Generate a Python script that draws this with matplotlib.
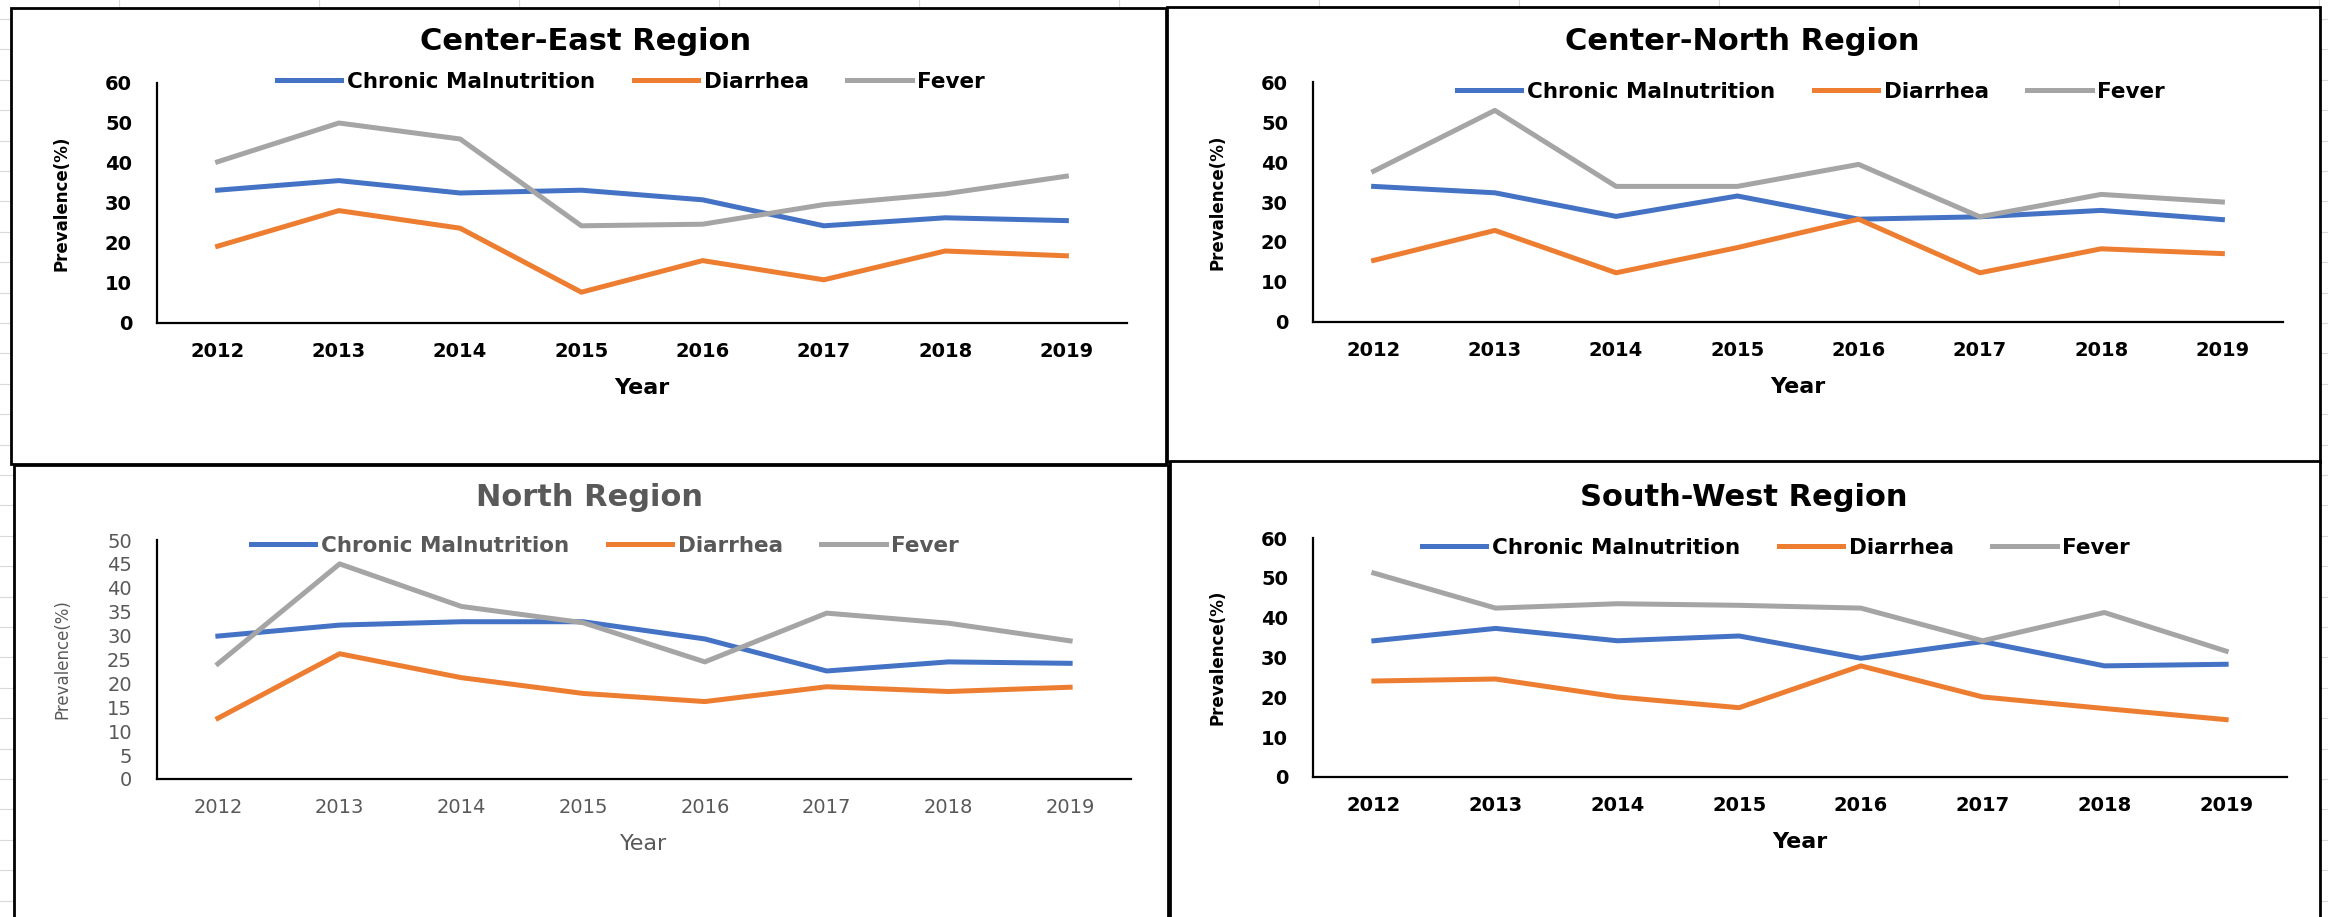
import matplotlib
matplotlib.use("Agg")
import matplotlib.pyplot as plt
from matplotlib.patches import Rectangle
from matplotlib.lines import Line2D

W, H = 2328, 917

years = ["2012", "2013", "2014", "2015", "2016", "2017", "2018", "2019"]
series_names = ["Chronic Malnutrition", "Diarrhea", "Fever"]
series_colors = ["#4472C4", "#ED7D31", "#A5A5A5"]

# Center-East Region
ce_chronic = [33.2, 35.6, 32.5, 33.2, 30.8, 24.3, 26.3, 25.6]
ce_diarrhea = [19.2, 28.1, 23.7, 7.7, 15.6, 10.8, 18.0, 16.8]
ce_fever = [40.3, 50.0, 46.0, 24.3, 24.7, 29.6, 32.3, 36.7]

# Center-North Region
cn_chronic = [33.9, 32.3, 26.4, 31.5, 25.7, 26.3, 27.9, 25.6]
cn_diarrhea = [15.4, 22.9, 12.3, 18.6, 25.7, 12.3, 18.3, 17.1]
cn_fever = [37.7, 52.9, 33.9, 33.9, 39.4, 26.3, 31.9, 30.0]

# North Region
n_chronic = [29.9, 32.2, 32.9, 32.9, 29.3, 22.6, 24.5, 24.2]
n_diarrhea = [12.7, 26.2, 21.2, 17.9, 16.2, 19.3, 18.3, 19.2]
n_fever = [24.1, 45.0, 36.1, 32.7, 24.5, 34.7, 32.6, 28.9]

# South-West Region
sw_chronic = [34.2, 37.3, 34.2, 35.4, 29.8, 34.0, 27.9, 28.3]
sw_diarrhea = [24.1, 24.6, 20.1, 17.4, 27.9, 20.1, 17.2, 14.4]
sw_fever = [51.2, 42.4, 43.5, 43.1, 42.4, 34.2, 41.3, 31.6]


def fx(x):
    return x / W


def fy(y):
    return 1 - y / H


fig = plt.figure(figsize=(W / 100, H / 100), dpi=100)
fig.patch.set_facecolor("white")

#---- spreadsheet cell lines in the background
for gx in range(119, W, 200):
    fig.add_artist(Line2D([fx(gx), fx(gx)], [0, 1], color="#d9d9d9", lw=0.8, zorder=0))
gy = 19
while gy < H:
    fig.add_artist(Line2D([0, 1], [fy(gy), fy(gy)], color="#d9d9d9", lw=0.8, zorder=0))
    gy += 30.4

panels = [
    # title, data, frame (x0, y0, x1, y1), axes (x0, y0, x1, y1), ymax, ystep, title pos, legend pos, style
    ("Center-East Region", (ce_chronic, ce_diarrhea, ce_fever),
     (11, 8, 1166, 464), (157, 83, 1127, 323), 60, 10, (586, 42), (631, 82), "dark"),
    ("Center-North Region", (cn_chronic, cn_diarrhea, cn_fever),
     (1167, 7, 2320, 462), (1313, 82, 2283, 322), 60, 10, (1742, 42), (1811, 92), "dark"),
    ("North Region", (n_chronic, n_diarrhea, n_fever),
     (14, 465, 1168, 940), (157, 540, 1131, 779), 50, 5, (589, 498), (605, 546), "gray"),
    ("South-West Region", (sw_chronic, sw_diarrhea, sw_fever),
     (1170, 461, 2320, 940), (1313, 538, 2287, 777), 60, 10, (1744, 497), (1776, 548), "dark"),
]

for title, data, frame, box, ymax, ystep, tpos, lpos, style in panels:
    if style == "dark":
        tcol, tw = "black", "bold"
    else:
        tcol, tw = "#595959", "normal"

    fx0, fy0, fx1, fy1 = frame
    fig.add_artist(Rectangle((fx(fx0), fy(fy1)), fx(fx1 - fx0), (fy1 - fy0) / H,
                             transform=fig.transFigure, facecolor="white",
                             edgecolor="black", lw=2, zorder=1))

    x0, y0, x1, y1 = box
    ax = fig.add_axes([fx(x0), fy(y1), fx(x1 - x0), (y1 - y0) / H])
    ax.set_zorder(2)
    ax.patch.set_alpha(0)

    xs = list(range(len(years)))
    lines = []
    for vals, name, col in zip(data, series_names, series_colors):
        ln, = ax.plot(xs, vals, color=col, lw=3.6, label=name)
        lines.append(ln)

    ax.set_xlim(-0.5, len(years) - 0.5)
    ax.set_ylim(0, ymax)
    ax.set_yticks(range(0, ymax + 1, ystep))
    ax.set_xticks(xs)
    ax.set_xticklabels(years)
    for s in ["top", "right"]:
        ax.spines[s].set_visible(False)
    for s in ["left", "bottom"]:
        ax.spines[s].set_color("black")
        ax.spines[s].set_linewidth(1.6)
    ax.tick_params(length=0, labelsize=14, colors=tcol)
    ax.tick_params(axis="x", pad=14)
    ax.tick_params(axis="y", pad=18)
    for lab in ax.get_xticklabels() + ax.get_yticklabels():
        lab.set_fontweight(tw)

    ax.set_xlabel("Year", fontsize=16, fontweight=tw, color=tcol)
    ax.xaxis.set_label_coords(0.5, -55 / (y1 - y0))
    ax.set_ylabel("Prevalence(%)", fontsize=12, fontweight=tw, color=tcol)
    ax.yaxis.set_label_coords(-86 / (x1 - x0), 0.5)

    fig.text(fx(tpos[0]), fy(tpos[1]), title, ha="center", va="center",
             fontsize=22, fontweight="bold", color=tcol, zorder=3)

    leg = fig.legend(handles=lines, loc="center", bbox_to_anchor=(fx(lpos[0]), fy(lpos[1])),
                     ncol=3, frameon=False, handlelength=3.0, handletextpad=0.25,
                     columnspacing=1.8, borderpad=0, prop={"size": 15.5, "weight": "bold"})
    for t in leg.get_texts():
        t.set_color(tcol)
    leg.set_zorder(3)

fig.savefig("out.png", dpi=100)
